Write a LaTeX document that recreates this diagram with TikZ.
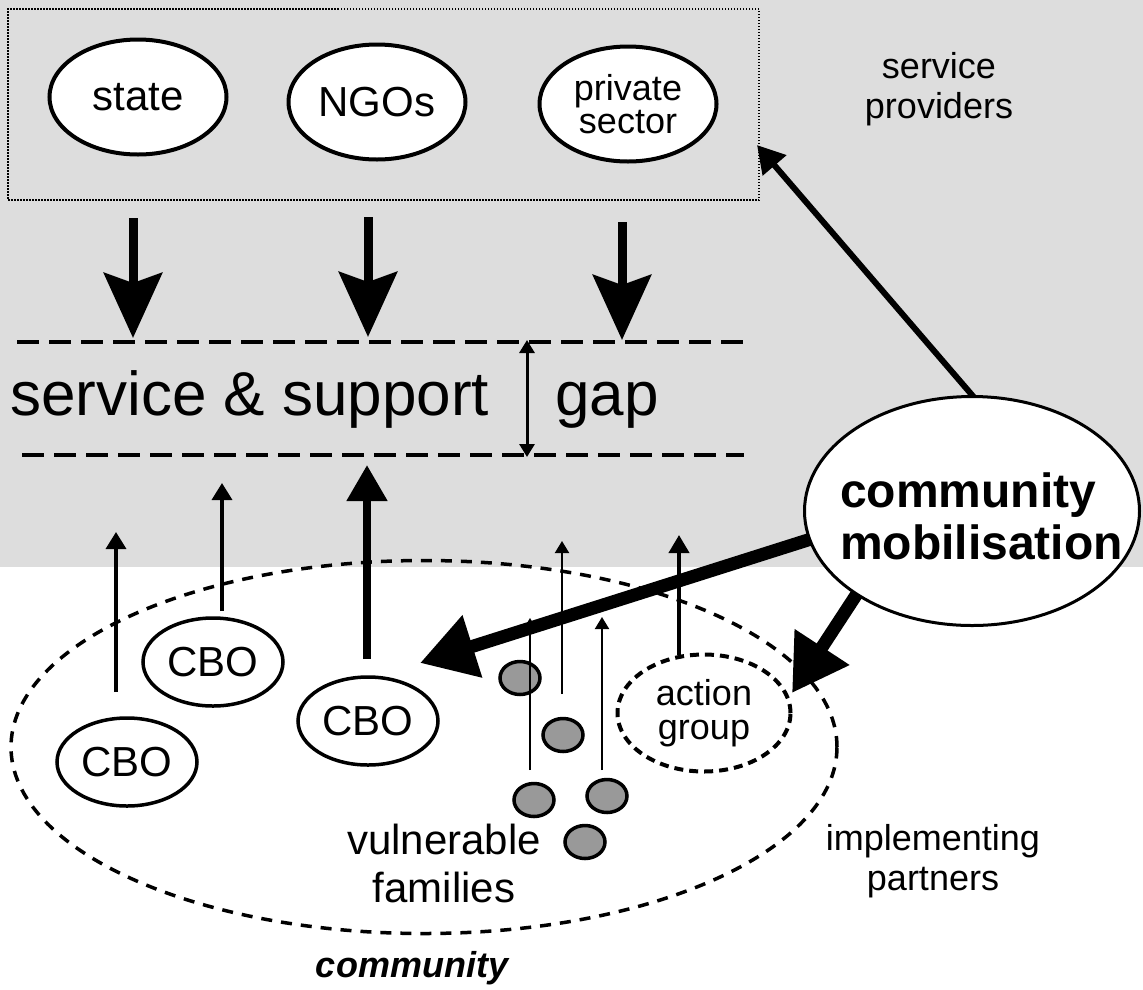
\documentclass[tikz,border=0pt]{standalone}
\usepackage{fontspec}
\setmainfont{Liberation Sans}
\usetikzlibrary{shapes.geometric,arrows.meta,calc}
\pgfdeclarelayer{front}
\pgfsetlayers{main,front}
\definecolor{bggrey}{HTML}{DDDDDD}
\definecolor{famgrey}{HTML}{999999}
\begin{document}
\begin{tikzpicture}[x=1pt,y=-1pt,
  oval/.style={draw, ellipse, fill=white, line width=4pt, inner sep=0pt},
  provoval/.style={oval, minimum width=177pt, minimum height=115pt, align=center, font=\fontsize{42}{46}\selectfont},
  cbo/.style={oval, line width=3.5pt, minimum width=140pt, minimum height=88pt, font=\fontsize{42}{46}\selectfont},
  fam/.style={draw, ellipse, fill=famgrey, line width=3.5pt, minimum width=40pt, minimum height=33pt, inner sep=0pt},
  provbox/.style={draw, line width=1.5pt, dash pattern=on 1.5pt off 1.5pt, minimum width=751pt, minimum height=191pt, inner sep=0pt},
  commoval/.style={draw, ellipse, line width=3.5pt, dash pattern=on 11pt off 9pt, minimum width=826pt, minimum height=373pt, inner sep=0pt},
  agoval/.style={draw, ellipse, fill=white, line width=4pt, dash pattern=on 9pt off 6pt, minimum width=173pt, minimum height=117pt, inner sep=0pt, align=center, font=\fontsize{36}{34}\selectfont},
  cmoval/.style={draw, ellipse, fill=white, line width=3pt, minimum width=335pt, minimum height=229pt, inner sep=0pt},
  txt/.style={inner sep=0pt, align=center},
  gapline/.style={line width=4pt, dash pattern=on 22pt off 10pt},
  bigdown/.style={line width=9pt, -{Stealth[length=65pt,width=58pt,inset=10pt]}},
  thinup/.style={line width=3.5pt, -{Triangle[length=17pt,width=20pt]}},
  famup/.style={line width=2pt, -{Triangle[length=12pt,width=14pt]}},
  agup/.style={line width=4pt, -{Triangle[length=18pt,width=20pt]}},
  thickup/.style={line width=8pt, -{Triangle[length=36pt,width=39pt]}},
  gaparrow/.style={line width=3pt, {Triangle[length=13pt,width=15pt]}-{Triangle[length=13pt,width=15pt]}},
  mobarrow/.style={line width=13pt, -{Triangle[length=55pt,width=62pt]}},
  provarrow/.style={line width=6pt, -{Triangle[length=27pt,width=30pt]}}
]
\useasboundingbox (0,0) rectangle (1143,989);
\fill[bggrey] (0,0) rectangle (1143,567);

% service providers
\node[provbox] (prov) at (383.5,104.5) {};
\node[provoval] (state) at (138,97) {state};
\node[provoval] (ngos) at (377,102) {NGOs};
\node[provoval, font=\fontsize{36}{33}\selectfont] (priv) at (628,104) {private\\sector};
\node[txt, font=\fontsize{36}{40}\selectfont] (provlbl) at (939,89) {service\\providers};

% down arrows
\coordinate (s1) at (133,218); \coordinate (t1) at (133,338);
\coordinate (s2) at (368,217); \coordinate (t2) at (368,337);
\coordinate (s3) at (622,222); \coordinate (t3) at (622,340);
\draw[bigdown] (s1) -- (t1);
\draw[bigdown] (s2) -- (t2);
\draw[bigdown] (s3) -- (t3);

% gap
\coordinate (ga1) at (17,342); \coordinate (ga2) at (744,342);
\coordinate (gb1) at (22,455); \coordinate (gb2) at (744,455);
\draw[gapline] (ga1) -- (ga2);
\draw[gapline] (gb1) -- (gb2);
\node[inner sep=0pt, anchor=base west, font=\fontsize{62}{66}\selectfont] (gaptext) at (10,415) {service \& support};
\node[inner sep=0pt, anchor=base west, font=\fontsize{62}{66}\selectfont] (gapword) at (555,415) {gap};
\coordinate (gt) at (527,340); \coordinate (gbt) at (527,457);
\draw[gaparrow] (gt) -- (gbt);

% community
\node[commoval] (comm) at (424,747) {};
\node[cbo] (cbo1) at (127,762) {CBO};
\node[cbo] (cbo2) at (213,662) {CBO};
\node[cbo] (cbo3) at (368,721) {CBO};
\coordinate (c1s) at (116,692); \coordinate (c1t) at (116,532);
\coordinate (c2s) at (222,611); \coordinate (c2t) at (222,483);
\coordinate (c3s) at (367,659); \coordinate (c3t) at (367,465);
\draw[thinup] (c1s) -- (c1t);
\draw[thinup] (c2s) -- (c2t);
\draw[thickup] (c3s) -- (c3t);

\node[fam] (f1) at (520,678) {};
\node[fam] (f2) at (563,735) {};
\node[fam] (f3) at (534,800) {};
\node[fam] (f4) at (607,796) {};
\node[fam] (f5) at (585,842) {};
\coordinate (a1s) at (530,770); \coordinate (a1t) at (530,618);
\coordinate (a2s) at (562,694); \coordinate (a2t) at (562,541);
\coordinate (a3s) at (602,770); \coordinate (a3t) at (602,617);
\draw[famup] (a1s) -- (a1t);
\draw[famup] (a2s) -- (a2t);
\draw[famup] (a3s) -- (a3t);

\node[agoval] (ag) at (704,713) {action\\group};
\coordinate (ags) at (679,655); \coordinate (agt) at (679,535);
\draw[agup] (ags) -- (agt);

\node[txt, font=\fontsize{42}{48}\selectfont] (vf) at (444,863) {vulnerable\\families};
\node[txt, font=\fontsize{36}{40}\selectfont] (ip) at (933,861) {implementing\\partners};
\node[inner sep=0pt, anchor=base, font=\bfseries\itshape\fontsize{36}{40}\selectfont] (commlbl) at (412,977) {community};

% community mobilisation
\begin{pgfonlayer}{front}
\node[cmoval] (cm) at (972,511) {};
\node[inner sep=0pt, align=left, anchor=west, font=\bfseries\fontsize{48}{52}\selectfont] (cmlabel) at (840,516) {community\\mobilisation};
\end{pgfonlayer}
\coordinate (cmcbo) at (420,663);
\coordinate (cmag) at (792,693);
\coordinate (cmprov) at (757,145);
\draw[mobarrow] ($(cmcbo)!1.04!(cm.190)$) -- (cmcbo);
\draw[mobarrow] ($(cmag)!1.1!(cm.216)$) -- (cmag);
\draw[provarrow] ($(cmprov)!1.03!(cm.north)$) -- (cmprov);
\end{tikzpicture}
\end{document}
